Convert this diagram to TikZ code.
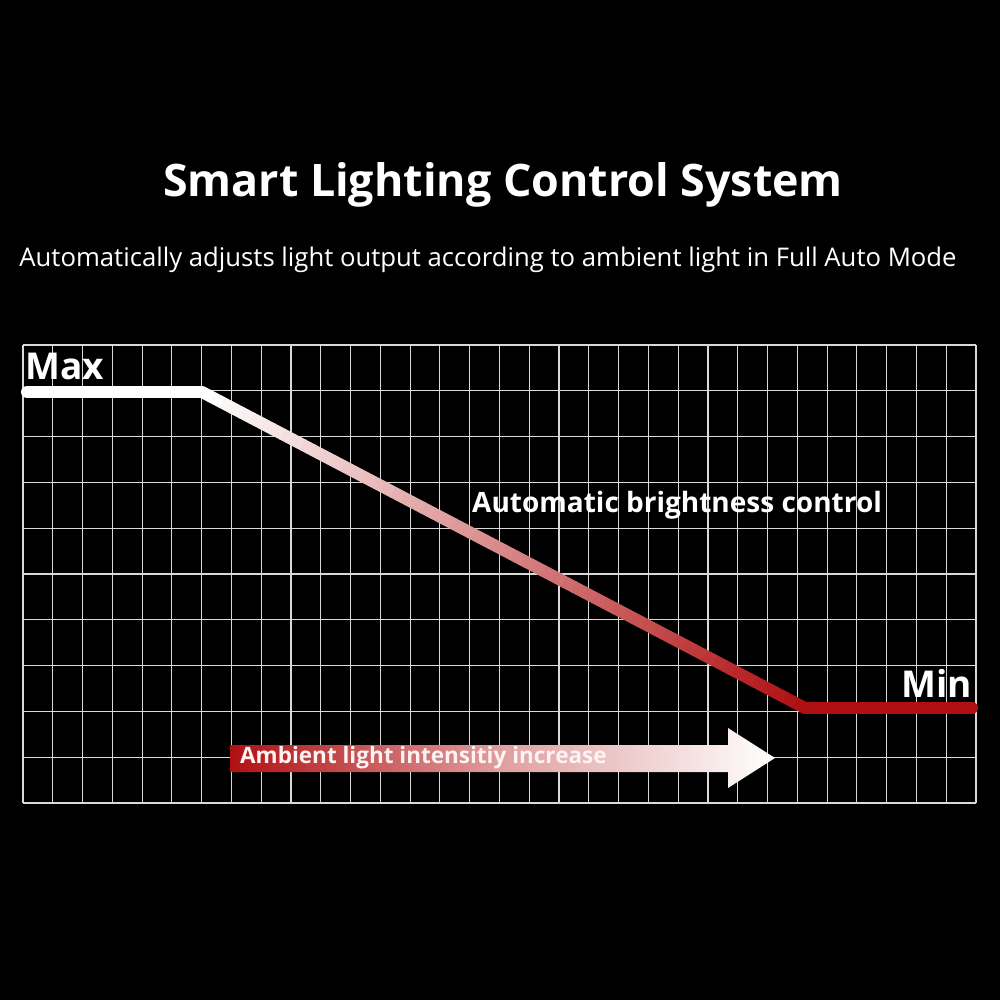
\documentclass[tikz,border=0pt]{standalone}
\usepackage{fontspec}
\setmainfont{Open Sans}
\usetikzlibrary{calc}
\definecolor{dred}{RGB}{176,16,18}
\tikzset{gridline/.style={draw=white!85!black,line width=1.1pt},
 lbl/.style={text=white,inner sep=0pt,font=\bfseries}}
\begin{document}
\begin{tikzpicture}[x=1pt,y=-1pt]
\useasboundingbox[fill=black] (0,0) rectangle (1000,1000);
\node[lbl,anchor=center] (title) at (503,185) {\resizebox{680pt}{!}{Smart Lighting Control System}};
\node[text=white,inner sep=0pt,anchor=center] (sub) at (488,260) {\resizebox{937pt}{!}{Automatically adjusts light output according to ambient light in Full Auto Mode}};
% grid
\foreach \i in {0,...,32} \draw[gridline] ({23+\i*29.78},345) -- ({23+\i*29.78},803);
\foreach \j in {0,...,10} \draw[gridline] (23,{345+\j*45.8}) -- (976,{345+\j*45.8});
% curve
\coordinate (a) at (27,392);
\coordinate (b) at (202,392);
\coordinate (c) at (805,708);
\coordinate (d) at (972,708);
\draw[white,line width=12pt,line cap=round] (a) -- (b);
\foreach \k in {0,...,59}{
  \pgfmathsetmacro{\p}{100-\k*100/59}
  \colorlet{segc}{white!\p!dred}
  \draw[segc,line width=12pt] ($(b)!{\k/60}!(c)$) -- ($(b)!{(\k+1.05)/60}!(c)$);
}
\draw[dred,line width=12pt,line cap=round] (c) -- (d);
\node[lbl,anchor=west,font=\bfseries\fontsize{28}{28}\selectfont] (auto) at (472,505) {Automatic brightness control};
\node[lbl,anchor=west,font=\bfseries\fontsize{37}{37}\selectfont] (max) at (25,366) {Max};
\node[lbl,anchor=east,font=\bfseries\fontsize{37}{37}\selectfont] (min) at (972,683) {Min};
% arrow
\shade[left color=dred,right color=white,middle color=white!60!dred] (230,745) -- (728,745) -- (728,728) -- (775,758) -- (728,788) -- (728,772) -- (230,772) -- cycle;
\node[lbl,anchor=west,font=\bfseries\fontsize{22.5}{22.5}\selectfont,text=white!95!red] (amb) at (240,758) {Ambient light intensitiy increase};
\end{tikzpicture}
\end{document}
